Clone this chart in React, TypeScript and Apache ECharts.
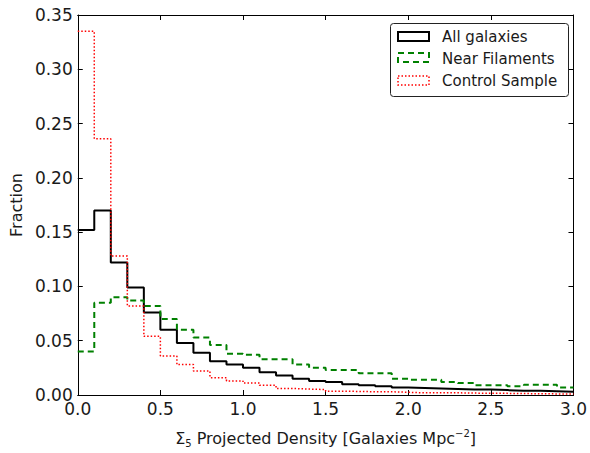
import React, { useEffect, useRef } from "react";
import * as echarts from "echarts";

const binEdges = [0.0, 0.1, 0.2, 0.3, 0.4, 0.5, 0.6, 0.7, 0.8, 0.9, 1.0, 1.1, 1.2, 1.3, 1.4, 1.5, 1.6, 1.7, 1.8, 1.9, 2.0, 2.1, 2.2, 2.3, 2.4, 2.5, 2.6, 2.7, 2.8, 2.9];
const xMax = 3.0;

const allGalaxies = [0.152, 0.170, 0.122, 0.099, 0.076, 0.060, 0.048, 0.039, 0.031, 0.028, 0.025, 0.021, 0.018, 0.015, 0.013, 0.012, 0.010, 0.009, 0.008, 0.007, 0.0065, 0.006, 0.0055, 0.005, 0.005, 0.0045, 0.004, 0.004, 0.0035, 0.003];
const nearFilaments = [0.040, 0.085, 0.090, 0.087, 0.082, 0.070, 0.060, 0.053, 0.046, 0.038, 0.037, 0.033, 0.033, 0.028, 0.025, 0.023, 0.023, 0.020, 0.020, 0.015, 0.014, 0.014, 0.012, 0.011, 0.009, 0.009, 0.008, 0.0095, 0.0095, 0.007];
const controlSample = [0.335, 0.236, 0.128, 0.082, 0.054, 0.036, 0.028, 0.022, 0.016, 0.013, 0.011, 0.009, 0.006, 0.0055, 0.005, 0.0035, 0.0033, 0.003, 0.003, 0.0025, 0.002, 0.002, 0.002, 0.0018, 0.0015, 0.0015, 0.0013, 0.0012, 0.001, 0.001];

const seriesNames = ["All galaxies", "Near Filaments", "Control Sample"];

function stepData(values: number[]): number[][] {
  const pts: number[][] = [];
  values.forEach((v, i) => pts.push([binEdges[i], v]));
  pts.push([xMax, values[values.length - 1]]);
  return pts;
}

const FONT = "DejaVu Sans";

export default function App() {
  const ref = useRef<HTMLDivElement>(null);
  useEffect(() => {
    if (!ref.current) return;
    const chart = echarts.init(ref.current, null, { renderer: "svg" });
    const tickStyle = { inside: true, length: 5, lineStyle: { color: "#000", width: 1 } };
    const axisLine = { show: true, onZero: false, lineStyle: { color: "#000", width: 1 } };
    chart.setOption({
      animation: false,
      backgroundColor: "#fff",
      textStyle: { fontFamily: FONT },
      grid: { left: 73, right: 16, top: 15, bottom: 50, containLabel: false },
      xAxis: [
        {
          type: "value", min: 0, max: 3, interval: 0.5, position: "bottom",
          axisLine, axisTick: tickStyle, splitLine: { show: false },
          axisLabel: { color: "#1a1a1a", fontSize: 17, fontFamily: FONT, margin: 5, formatter: (v: number) => v.toFixed(1) },
          name: "{n|Σ}{sub|5}{n| Projected Density [Galaxies Mpc}{sup|−2}{n|]}",
          nameLocation: "middle", nameGap: 33,
          nameTextStyle: {
            color: "#1a1a1a", fontSize: 16, fontFamily: FONT,
            rich: {
              n: { fontSize: 16, fontFamily: FONT, color: "#1a1a1a" },
              sub: { fontSize: 10, fontFamily: FONT, color: "#1a1a1a", padding: [10, 0, 0, 0] },
              sup: { fontSize: 10, fontFamily: FONT, color: "#1a1a1a", padding: [0, 0, 10, 0] },
            },
          },
        },
        {
          type: "value", min: 0, max: 3, interval: 0.5, position: "top",
          axisLine, axisTick: tickStyle, splitLine: { show: false }, axisLabel: { show: false },
        },
      ],
      yAxis: [
        {
          type: "value", min: 0, max: 0.35, interval: 0.05, position: "left",
          axisLine, axisTick: tickStyle, splitLine: { show: false },
          axisLabel: { color: "#1a1a1a", fontSize: 17, fontFamily: FONT, margin: 5, formatter: (v: number) => v.toFixed(2) },
          name: "Fraction", nameLocation: "middle", nameGap: 53,
          nameTextStyle: { color: "#1a1a1a", fontSize: 16, fontFamily: FONT },
        },
        {
          type: "value", min: 0, max: 0.35, interval: 0.05, position: "right",
          axisLine, axisTick: tickStyle, splitLine: { show: false }, axisLabel: { show: false },
        },
      ],
      series: [
        {
          name: seriesNames[0], type: "line", step: "end", showSymbol: false, xAxisIndex: 0, yAxisIndex: 0,
          data: stepData(allGalaxies), lineStyle: { color: "#000", width: 2, type: "solid" }, z: 2,
        },
        {
          name: seriesNames[1], type: "line", step: "end", showSymbol: false, xAxisIndex: 0, yAxisIndex: 0,
          data: stepData(nearFilaments), lineStyle: { color: "#008000", width: 2, type: [6, 4] }, z: 3,
        },
        {
          name: seriesNames[2], type: "line", step: "end", showSymbol: false, xAxisIndex: 0, yAxisIndex: 0,
          data: stepData(controlSample), lineStyle: { color: "#ff0000", width: 1.5, type: [1.5, 2] }, z: 4,
        },
      ],
      graphic: [
        {
          type: "rect", z: 100,
          shape: { x: 390.5, y: 23.5, width: 178, height: 73, r: 3 },
          style: { fill: "#fff", stroke: "#222", lineWidth: 1 },
        },
        {
          type: "rect", z: 101,
          shape: { x: 398, y: 32, width: 31, height: 9 },
          style: { fill: "#fff", stroke: "#000", lineWidth: 2 },
        },
        {
          type: "rect", z: 101,
          shape: { x: 398, y: 53, width: 31, height: 9 },
          style: { fill: "#fff", stroke: "#008000", lineWidth: 2, lineDash: [6, 4] },
        },
        {
          type: "rect", z: 101,
          shape: { x: 398, y: 76, width: 31, height: 9 },
          style: { fill: "#fff", stroke: "#ff0000", lineWidth: 1.5, lineDash: [1.5, 2] },
        },
        {
          type: "text", z: 101, x: 442, y: 37,
          style: { text: seriesNames[0], fill: "#1a1a1a", font: `15px "${FONT}"`, textVerticalAlign: "middle", verticalAlign: "middle" },
        },
        {
          type: "text", z: 101, x: 442, y: 58.5,
          style: { text: seriesNames[1], fill: "#1a1a1a", font: `15px "${FONT}"`, textVerticalAlign: "middle", verticalAlign: "middle" },
        },
        {
          type: "text", z: 101, x: 442, y: 81,
          style: { text: seriesNames[2], fill: "#1a1a1a", font: `15px "${FONT}"`, textVerticalAlign: "middle", verticalAlign: "middle" },
        },
      ],
    });
    return () => chart.dispose();
  }, []);
  return (
    <div
      ref={ref}
      style={{ position: "fixed", left: 0, top: 0, width: 590, height: 453, background: "#fff" }}
    />
  );
}
